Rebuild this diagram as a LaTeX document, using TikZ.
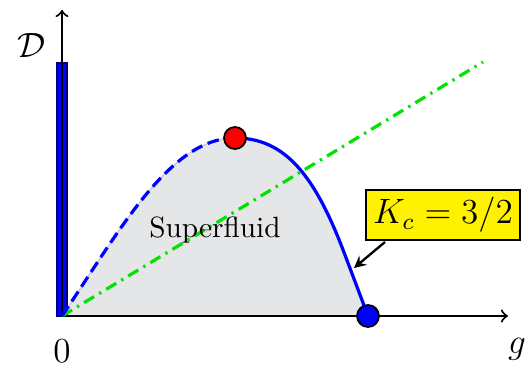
\documentclass[tikz,border=0pt]{standalone}
\usepackage{amsmath,amssymb}
\usepackage{tikz}

\begin{document}
\begin{tikzpicture}[x=0.012cm, y=-0.012cm, every node/.style={inner sep=1pt}]
\useasboundingbox (0,0) rectangle (527,366);

\coordinate (O) at (62,316);
\coordinate (top) at (235,138);
\coordinate (end) at (368,316);

% superfluid region
\fill[fill={rgb,255:red,229;green,230;blue,232}, draw=gray!50, line width=0.3pt] (O) .. controls (120,230) and (170,138) .. (top)
  .. controls (285,138) and (315,175) .. (345,255) -- (end) -- cycle;

% blue bar on the axis
\fill[blue, draw=blue!50!black, line width=0.4pt] (57,63) rectangle (67,316);

% axes
\draw[->, line width=0.7pt] (O) -- (508,316);
\draw[->, line width=0.7pt] (O) -- (62,10);

% green line
\draw[green!90!black, line width=1.1pt, dash pattern=on 4pt off 2pt on 0.8pt off 2pt] (O) -- (483,62);

% phase boundary
\draw[blue, line width=1.1pt, dash pattern=on 4pt off 2pt] (O) .. controls (120,230) and (170,138) .. (top);
\draw[blue, line width=1.1pt] (top) .. controls (285,138) and (315,175) .. (345,255) -- (end);

\node[circle, draw, fill=red, line width=0.6pt, minimum size=7.5pt, inner sep=0pt] (rdot) at (top) {};
\node[circle, draw, fill=blue, line width=0.6pt, minimum size=7.5pt, inner sep=0pt] (bdot) at (end) {};

\node (D) at (32,45) {\large$\mathcal{D}$};
\node (zero) at (62,351) {\large$0$};
\node (g) at (517,349) {\large$g$};
\node (sf) at (215,230) {Superfluid};

\node[draw, fill=yellow, line width=0.6pt, inner sep=2.5pt] (Kc) at (443,215) {\large$K_c = 3/2$};
\coordinate (kink) at (354,268);
\draw[-stealth, line width=0.8pt] (385,242) -- (kink);

\end{tikzpicture}
\end{document}
